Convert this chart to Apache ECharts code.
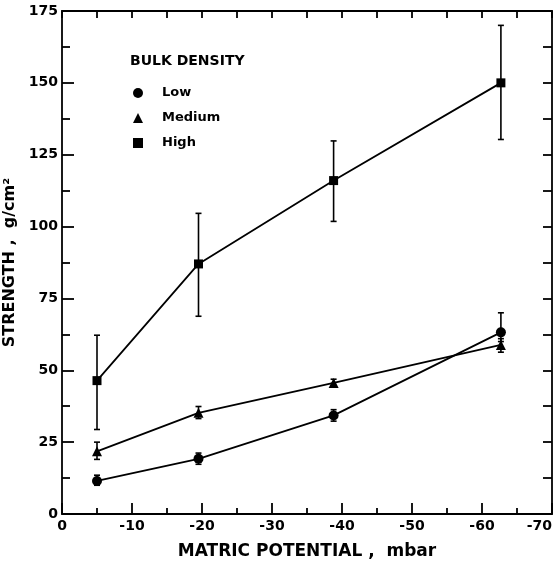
<!DOCTYPE html>
<html>
<head>
<meta charset="utf-8">
<script src="https://cdn.jsdelivr.net/npm/echarts@6/dist/echarts.min.js"></script>
<style>
html,body{margin:0;padding:0;background:#fff;}
#chart{width:559px;height:566px;}
</style>
</head>
<body>
<div id="chart"></div>
<script>
// Matric potential (mbar) at which strength was measured
const potentials = [-5, -19.5, -38.8, -62.7];
// Strength (g/cm^2) by bulk density
const lowMean   = [11.5, 19.2, 34.3, 63.2];
const lowMin    = [10.0, 17.3, 32.3, 60.0];
const lowMax    = [13.5, 21.2, 36.3, 70.0];
const medMean   = [21.8, 35.2, 45.6, 58.8];
const medMin    = [19.0, 33.2, 44.3, 56.3];
const medMax    = [25.0, 37.4, 46.9, 61.0];
const highMean  = [46.4, 87.0, 116.0, 150.0];
const highMin   = [29.4, 68.8, 101.8, 130.3];
const highMax   = [62.2, 104.6, 129.8, 170.0];
const seriesNames = ['Low', 'Medium', 'High'];
const legendTitle = 'BULK DENSITY';
const xTitle = 'MATRIC POTENTIAL ,  mbar';
const yTitle = 'STRENGTH ,  g/cm\u00B2';

const FONT = 'DejaVu Sans';

function pts(ys) { return potentials.map((x, i) => [x, ys[i]]); }
function errData(lo, hi) { return potentials.map((x, i) => [x, lo[i], hi[i]]); }

function errorBar(params, api) {
  const x = api.value(0);
  const p1 = api.coord([x, api.value(1)]);
  const p2 = api.coord([x, api.value(2)]);
  const w = 3;
  const st = { stroke: '#000', lineWidth: 1.6 };
  return {
    type: 'group',
    children: [
      { type: 'line', shape: { x1: p1[0], y1: p1[1], x2: p2[0], y2: p2[1] }, style: st },
      { type: 'line', shape: { x1: p1[0] - w, y1: p1[1], x2: p1[0] + w, y2: p1[1] }, style: st },
      { type: 'line', shape: { x1: p2[0] - w, y1: p2[1], x2: p2[0] + w, y2: p2[1] }, style: st }
    ]
  };
}

const chart = echarts.init(document.getElementById('chart'), null, { renderer: 'canvas' });

const lineSeries = (name, data, symbol, size) => ({
  name: name, type: 'line', data: data, xAxisIndex: 0, yAxisIndex: 0,
  symbol: symbol, symbolSize: size, showSymbol: true,
  itemStyle: { color: '#000' },
  lineStyle: { color: '#000', width: 1.8 },
  emphasis: { disabled: true }, animation: false, z: 3
});
const errSeries = (data) => ({
  type: 'custom', data: data, xAxisIndex: 0, yAxisIndex: 0,
  renderItem: errorBar, animation: false, silent: true, z: 2
});

const axisText = { color: '#000', fontFamily: FONT, fontSize: 14, fontWeight: 'bold' };
const lineSt = { color: '#000', width: 1.8 };

chart.setOption({
  backgroundColor: '#fff',
  animation: false,
  grid: { left: 62, right: 7, top: 11, bottom: 52, containLabel: false, outerBoundsMode: 'none' },
  graphic: [{
    type: 'text', left: 130, top: 54,
    style: { text: legendTitle, fill: '#000', font: 'bold 14px "' + FONT + '"' }
  }],
  legend: {
    orient: 'vertical', left: 128, top: 81,
    itemGap: 11, itemWidth: 10, itemHeight: 10,
    textStyle: { color: '#000', fontFamily: FONT, fontSize: 13, fontWeight: 'bold', lineHeight: 14, padding: [0, 0, 0, 14] },
    data: [
      { name: seriesNames[0], icon: 'circle' },
      { name: seriesNames[1], icon: 'triangle' },
      { name: seriesNames[2], icon: 'rect' }
    ],
    selectedMode: false
  },
  xAxis: [{
    type: 'value', min: -70, max: 0, interval: 10, inverse: true,
    name: xTitle, nameLocation: 'middle', nameGap: 29,
    nameTextStyle: { color: '#000', fontFamily: FONT, fontSize: 17, fontWeight: 'bold' },
    axisLine: { show: true, onZero: false, lineStyle: lineSt },
    axisTick: { show: true, inside: true, length: 11, lineStyle: lineSt },
    minorTick: { show: true, splitNumber: 2, length: 6, lineStyle: lineSt },
    axisLabel: Object.assign({ margin: 5, alignMinLabel: 'right' }, axisText),
    splitLine: { show: false }
  }, {
    type: 'value', min: -70, max: 0, interval: 5, inverse: true, position: 'top',
    axisLine: { show: true, onZero: false, lineStyle: lineSt },
    axisTick: { show: true, inside: true, length: 7, lineStyle: lineSt },
    axisLabel: { show: false }, splitLine: { show: false }
  }],
  yAxis: [{
    type: 'value', min: 0, max: 175, interval: 25,
    name: yTitle, nameLocation: 'middle', nameGap: 33,
    nameTextStyle: { color: '#000', fontFamily: FONT, fontSize: 16, fontWeight: 'bold' },
    axisLine: { show: true, onZero: false, lineStyle: lineSt },
    axisTick: { show: true, inside: true, length: 12, lineStyle: lineSt },
    minorTick: { show: true, splitNumber: 2, length: 8, lineStyle: lineSt },
    axisLabel: Object.assign({ margin: 4 }, axisText),
    splitLine: { show: false }
  }, {
    type: 'value', min: 0, max: 175, interval: 12.5, position: 'right',
    axisLine: { show: true, onZero: false, lineStyle: lineSt },
    axisTick: { show: true, inside: true, length: 9, lineStyle: lineSt },
    axisLabel: { show: false }, splitLine: { show: false }
  }],
  series: [
    errSeries(errData(lowMin, lowMax)),
    errSeries(errData(medMin, medMax)),
    errSeries(errData(highMin, highMax)),
    lineSeries(seriesNames[0], pts(lowMean), 'circle', 10),
    lineSeries(seriesNames[1], pts(medMean), 'triangle', 10),
    lineSeries(seriesNames[2], pts(highMean), 'rect', 9)
  ]
});
</script>
</body>
</html>
